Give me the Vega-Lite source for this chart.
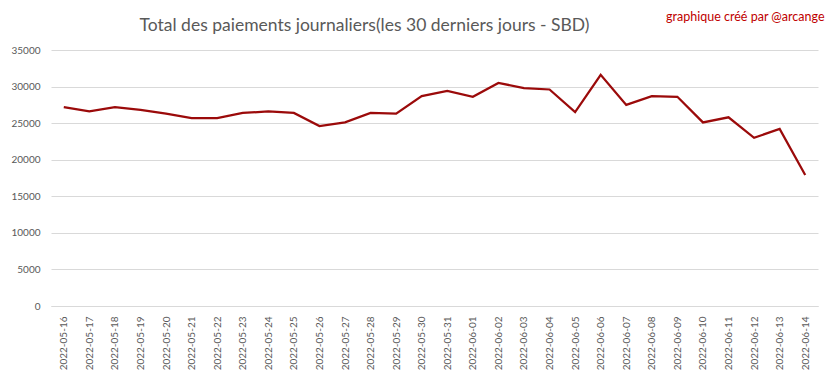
{
  "$schema": "https://vega.github.io/schema/vega-lite/v6.json",
  "width": 767,
  "height": 256,
  "autosize": {"type": "none"},
  "padding": {"left": 51, "top": 50, "right": 15, "bottom": 73},
  "background": "white",
  "title": {
    "text": "Total des paiements journaliers(les 30 derniers jours - SBD)",
    "anchor": "middle",
    "dx": -70,
    "dy": 38,
    "offset": 14,
    "font": "Lato",
    "fontSize": 17.5,
    "fontWeight": "normal",
    "color": "#595959"
  },
  "config": {
    "view": {"stroke": null},
    "font": "Lato"
  },
  "data": {
    "values": [
      {"date": "2022-05-16", "value": 27200},
      {"date": "2022-05-17", "value": 26600},
      {"date": "2022-05-18", "value": 27200},
      {"date": "2022-05-19", "value": 26800},
      {"date": "2022-05-20", "value": 26300},
      {"date": "2022-05-21", "value": 25700},
      {"date": "2022-05-22", "value": 25700},
      {"date": "2022-05-23", "value": 26400},
      {"date": "2022-05-24", "value": 26600},
      {"date": "2022-05-25", "value": 26400},
      {"date": "2022-05-26", "value": 24600},
      {"date": "2022-05-27", "value": 25100},
      {"date": "2022-05-28", "value": 26400},
      {"date": "2022-05-29", "value": 26300},
      {"date": "2022-05-30", "value": 28700},
      {"date": "2022-05-31", "value": 29400},
      {"date": "2022-06-01", "value": 28600},
      {"date": "2022-06-02", "value": 30500},
      {"date": "2022-06-03", "value": 29800},
      {"date": "2022-06-04", "value": 29600},
      {"date": "2022-06-05", "value": 26500},
      {"date": "2022-06-06", "value": 31600},
      {"date": "2022-06-07", "value": 27500},
      {"date": "2022-06-08", "value": 28700},
      {"date": "2022-06-09", "value": 28600},
      {"date": "2022-06-10", "value": 25100},
      {"date": "2022-06-11", "value": 25800},
      {"date": "2022-06-12", "value": 23000},
      {"date": "2022-06-13", "value": 24200},
      {"date": "2022-06-14", "value": 17900}
    ]
  },
  "mark": {"type": "line", "color": "#9B0A0A", "strokeWidth": 2.25},
  "encoding": {
    "x": {
      "field": "date",
      "type": "ordinal",
      "scale": {"type": "point", "padding": 0.5},
      "axis": {
        "title": null,
        "labelAngle": -90,
        "labelFontSize": 10,
        "labelColor": "#595959",
        "labelPadding": 10,
        "ticks": false,
        "domainColor": "#D9D9D9",
        "grid": false
      }
    },
    "y": {
      "field": "value",
      "type": "quantitative",
      "scale": {"domain": [0, 35000], "nice": false},
      "axis": {
        "values": [0, 5000, 10000, 15000, 20000, 25000, 30000, 35000],
        "format": "d",
        "labelFontSize": 10,
        "labelColor": "#595959",
        "labelPadding": 11,
        "ticks": false,
        "domain": false,
        "gridColor": "#D9D9D9",
        "title": "graphique créé par @arcange",
        "titleAngle": 0,
        "titleAlign": "right",
        "titleBaseline": "middle",
        "titleX": 773,
        "titleY": -34,
        "titleColor": "#C00000",
        "titleFontSize": 12.5,
        "titleFontWeight": "normal"
      }
    }
  }
}
